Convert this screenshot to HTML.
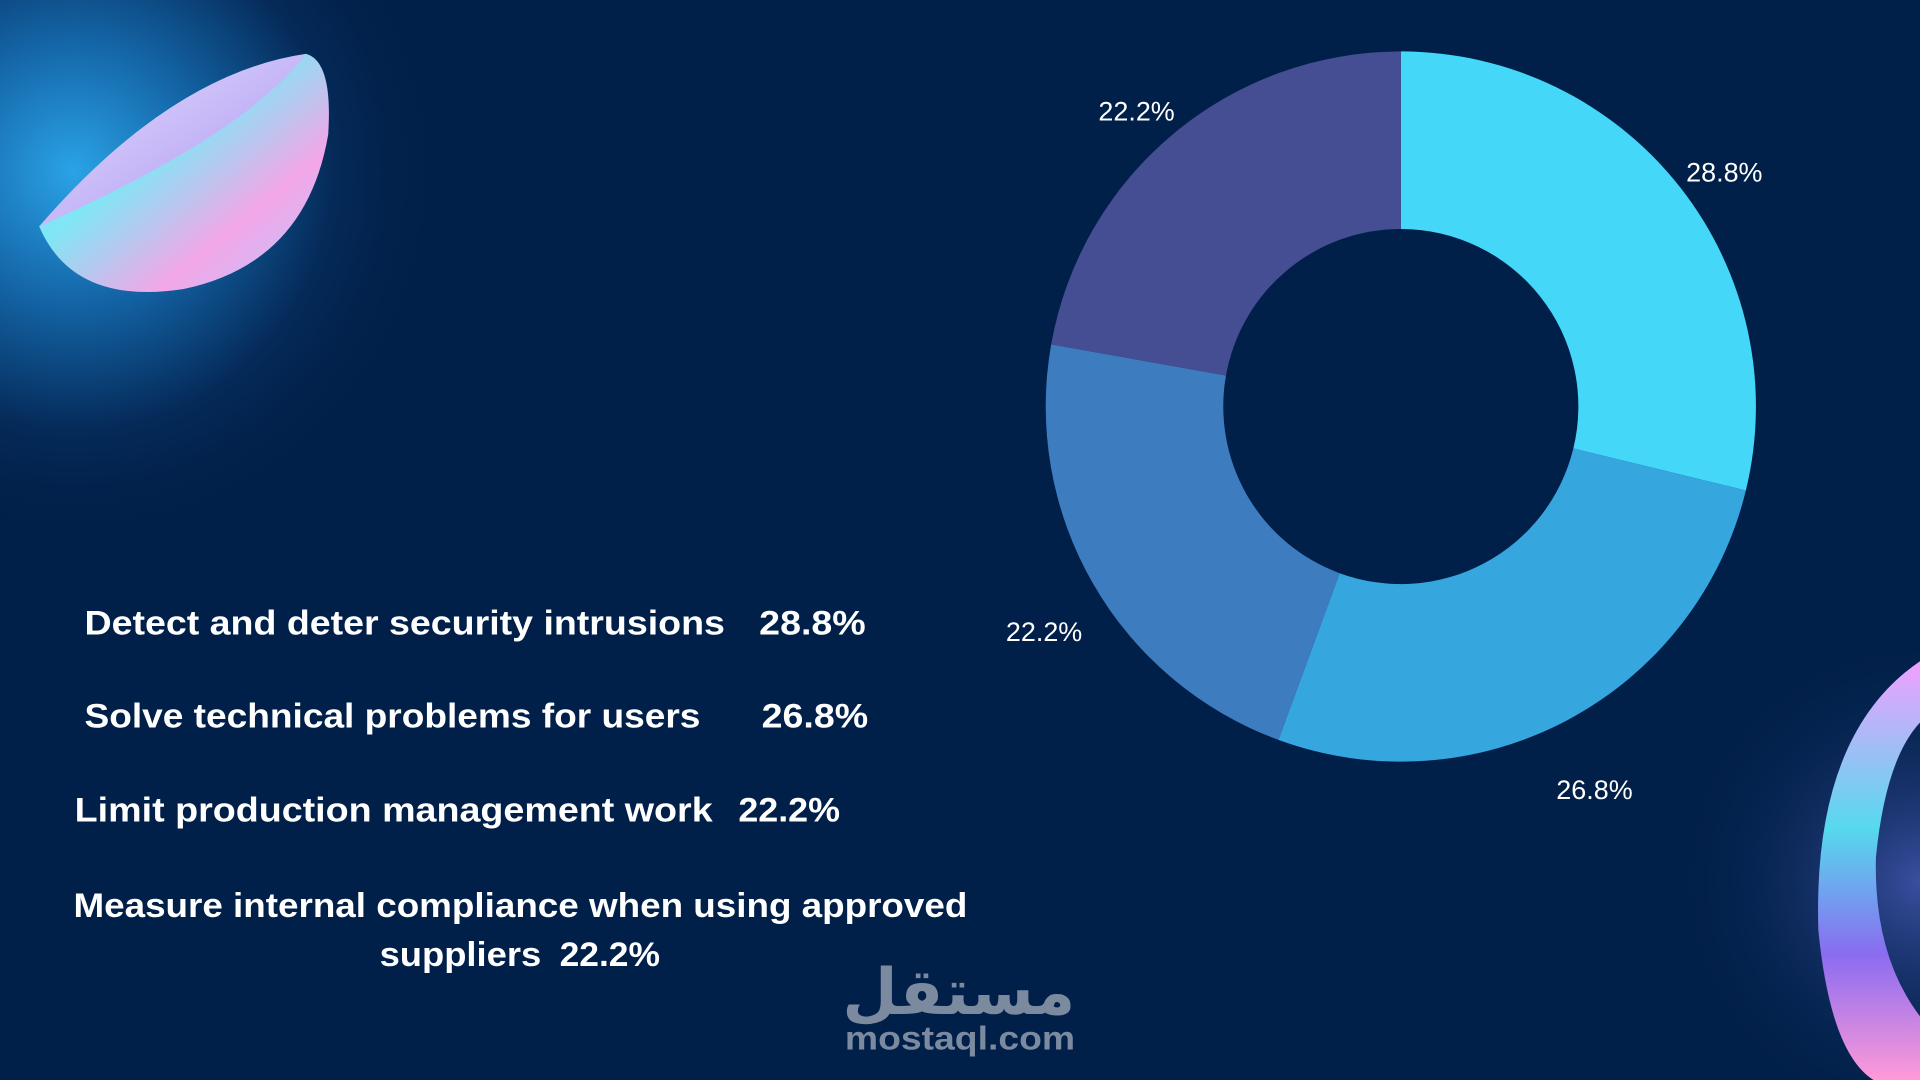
<!DOCTYPE html>
<html><head><meta charset="utf-8"><style>
html,body{margin:0;padding:0;background:#012049;overflow:hidden}
svg{display:block}
</style></head><body>
<svg id="chart" width="1920" height="1080" viewBox="0 0 1568 882" xmlns="http://www.w3.org/2000/svg" font-family="Liberation Sans, DejaVu Sans, sans-serif">
<defs>
<radialGradient id="glow" cx="60" cy="140" r="300" gradientUnits="userSpaceOnUse">
<stop offset="0" stop-color="#2aa3e6"/><stop offset="0.35" stop-color="#1466a8"/><stop offset="0.7" stop-color="#052b5a"/><stop offset="1" stop-color="#012049" stop-opacity="0"/>
</radialGradient>
<radialGradient id="glow2" cx="1568" cy="720" r="200" gradientUnits="userSpaceOnUse">
<stop offset="0" stop-color="#3a4fa0"/><stop offset="1" stop-color="#012049" stop-opacity="0"/>
</radialGradient>
<linearGradient id="bowl" x1="0" y1="0" x2="1" y2="1">
<stop offset="0" stop-color="#c9b4ff"/><stop offset="0.4" stop-color="#7fe7f5"/><stop offset="0.7" stop-color="#f3a6e8"/><stop offset="1" stop-color="#b9c9ff"/>
</linearGradient>
<linearGradient id="rim" x1="0" y1="0" x2="1" y2="1">
<stop offset="0" stop-color="#e6e0ff"/><stop offset="1" stop-color="#a992f0"/>
</linearGradient>
<linearGradient id="ring" x1="0" y1="0" x2="0" y2="1">
<stop offset="0" stop-color="#f0a0ff"/><stop offset="0.4" stop-color="#56d9ee"/><stop offset="0.7" stop-color="#8a6cf0"/><stop offset="1" stop-color="#ff9ad8"/>
</linearGradient>
</defs>
<rect width="1568" height="882" fill="#012049"/>
<rect width="1568" height="882" fill="url(#glow)"/>
<rect width="1568" height="882" fill="url(#glow2)"/>
<g>
<path d="M32 185 Q60 250 150 236 Q250 215 268 110 Q272 50 250 44 Q140 60 32 185 Z" fill="url(#bowl)"/>
<path d="M32 185 Q140 60 250 44 Q200 110 32 185 Z" fill="url(#rim)"/>
</g>
<g>
<path d="M1568 540 Q1480 600 1485 760 Q1495 860 1530 882 L1568 882 L1568 830 Q1530 780 1532 700 Q1540 620 1568 590 Z" fill="url(#ring)"/>
</g>
<g id="slices"></g>
<g id="labels"></g>
<g fill="#ffffff" font-weight="bold" font-size="28">
<text x="69" y="518" textLength="523" lengthAdjust="spacingAndGlyphs">Detect and deter security intrusions</text>
<text x="620" y="518" textLength="87" lengthAdjust="spacingAndGlyphs">28.8%</text>
<text x="69" y="594" textLength="503" lengthAdjust="spacingAndGlyphs">Solve technical problems for users</text>
<text x="622" y="594" textLength="87" lengthAdjust="spacingAndGlyphs">26.8%</text>
<text x="61" y="671" textLength="521" lengthAdjust="spacingAndGlyphs">Limit production management work</text>
<text x="603" y="671" textLength="83" lengthAdjust="spacingAndGlyphs">22.2%</text>
<text x="60" y="749" textLength="730" lengthAdjust="spacingAndGlyphs">Measure internal compliance when using approved</text>
<text x="310" y="789" textLength="132" lengthAdjust="spacingAndGlyphs">suppliers</text>
<text x="457" y="789" textLength="82" lengthAdjust="spacingAndGlyphs">22.2%</text>
</g>
<g fill="#7c8aa0" font-weight="bold">
<text x="783" y="828" text-anchor="middle" font-size="52" font-family="DejaVu Sans, sans-serif">مستقل</text>
<text x="690" y="857" font-size="27" textLength="188" lengthAdjust="spacingAndGlyphs">mostaql.com</text>
</g>
</svg>
<script>
const categories = ["Detect and deter security intrusions","Solve technical problems for users","Limit production management work","Measure internal compliance"];
const values = [28.8, 26.8, 22.2, 22.2];
const labels = ["28.8%","26.8%","22.2%","22.2%"];
const colors = ["#44d7f8","#36a6df","#3e7cc0","#454e92"];
const NS="http://www.w3.org/2000/svg";
const cx=1144, cy=332, R=290, r=145, LR=336;
const total=values.reduce((a,b)=>a+b,0);
function pt(a,rad){return [cx+rad*Math.sin(a), cy-rad*Math.cos(a)];}
let acc=0;
const gS=document.getElementById('slices'), gL=document.getElementById('labels');
values.forEach((v,i)=>{
  const a0=acc/total*2*Math.PI; acc+=v; const a1=acc/total*2*Math.PI;
  const large=(a1-a0)>Math.PI?1:0;
  const [x0,y0]=pt(a0,R),[x1,y1]=pt(a1,R),[x2,y2]=pt(a1,r),[x3,y3]=pt(a0,r);
  const p=document.createElementNS(NS,'path');
  p.setAttribute('d',`M${x0} ${y0} A${R} ${R} 0 ${large} 1 ${x1} ${y1} L${x2} ${y2} A${r} ${r} 0 ${large} 0 ${x3} ${y3} Z`);
  p.setAttribute('fill',colors[i]);
  
  
  gS.appendChild(p);
  const [lx,ly]=pt((a0+a1)/2,LR);
  const t=document.createElementNS(NS,'text');
  t.setAttribute('x',lx); t.setAttribute('y',ly+24);
  t.setAttribute('text-anchor','middle'); t.setAttribute('fill','#ffffff'); t.setAttribute('font-size','22');
  t.textContent=labels[i];
  
  
  gL.appendChild(t);
});
</script>
</body></html>
